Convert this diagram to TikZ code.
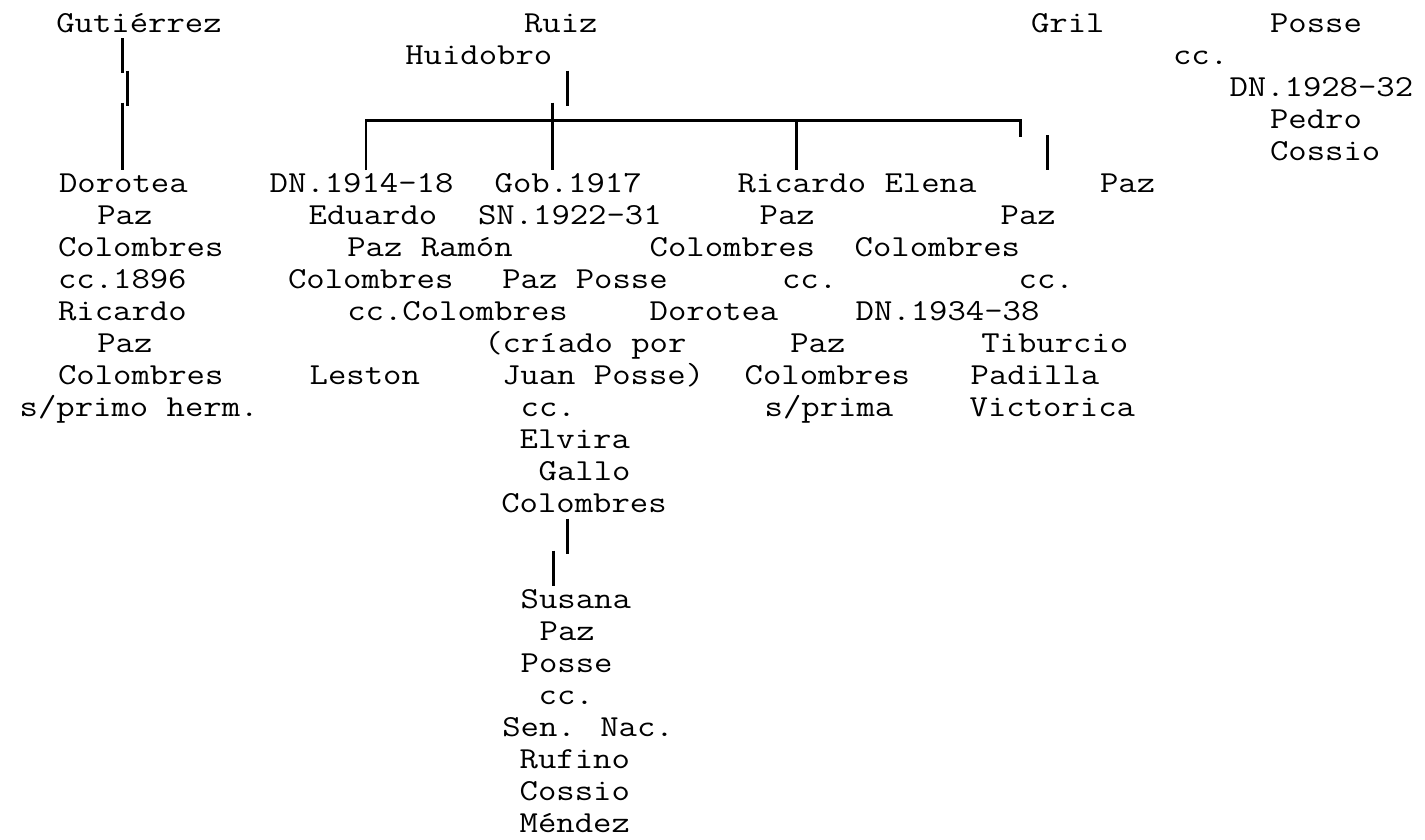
\documentclass[tikz,border=0pt]{standalone}
\usepackage{fontspec}
\usepackage{graphicx}
\newcommand{\tw}[1]{\scalebox{1.17}[1]{#1}}
\tikzset{
  lbl/.style={anchor=base west, inner sep=0pt, outer sep=0pt, font=\ttfamily\fontsize{30.5}{32}\selectfont},
  conn/.style={line width=2.6pt, black}
}
\begin{document}
\begin{tikzpicture}[x=1pt,y=-1pt]
\useasboundingbox (0,0) rectangle (1425,839);
% row 0
\node[lbl] (gut) at (56.3,32.4) {\tw{Gutiérrez}};
\node[lbl] (ruiz) at (524,32.4) {\tw{Ruiz}};
\node[lbl] (gril) at (1031,32.4) {\tw{Gril}};
\node[lbl] (posse) at (1270,32.4) {\tw{Posse}};
% row 1
\node[lbl] (huid) at (405.3,64.4) {\tw{Huidobro}};
\node[lbl] (ccA) at (1173,64.4) {\tw{cc.}};
% rows 2-4
\node[lbl] (dnA) at (1229.5,96.4) {\tw{DN.1928-32}};
\node[lbl] (pedro) at (1270,128.4) {\tw{Pedro}};
\node[lbl] (cossioA) at (1270,160.4) {\tw{Cossio}};
% row 5
\node[lbl] (dor1) at (59,192.4) {\tw{Dorotea}};
\node[lbl] (dn14) at (269.7,192.4) {\tw{DN.1914-18}};
\node[lbl] (gob) at (494.7,192.4) {\tw{Gob.1917}};
\node[lbl] (ric1) at (737.5,192.4) {\tw{Ricardo Elena}};
\node[lbl] (paz5) at (1100,192.4) {\tw{Paz}};
% row 6
\node[lbl] (paz6a) at (97.3,224.4) {\tw{Paz}};
\node[lbl] (edu) at (308.7,224.4) {\tw{Eduardo}};
\node[lbl] (sn) at (478,224.4) {\tw{SN.1922-31}};
\node[lbl] (paz6b) at (759.7,224.4) {\tw{Paz}};
\node[lbl] (paz6c) at (1000.7,224.4) {\tw{Paz}};
% row 7
\node[lbl] (col7a) at (58,256.4) {\tw{Colombres}};
\node[lbl] (pazram) at (347.3,256.4) {\tw{Paz Ramón}};
\node[lbl] (col7b) at (649.7,256.4) {\tw{Colombres}};
\node[lbl] (col7c) at (854.7,256.4) {\tw{Colombres}};
% row 8
\node[lbl] (cc1896) at (58,288.4) {\tw{cc.1896}};
\node[lbl] (col8) at (288,288.4) {\tw{Colombres}};
\node[lbl] (pazpos) at (502.3,288.4) {\tw{Paz Posse}};
\node[lbl] (cc8a) at (782,288.4) {\tw{cc.}};
\node[lbl] (cc8b) at (1018.7,288.4) {\tw{cc.}};
% row 9
\node[lbl] (ric9) at (58,320.4) {\tw{Ricardo}};
\node[lbl] (cccol) at (347.3,320.4) {\tw{cc.Colombres}};
\node[lbl] (dor9) at (649.7,320.4) {\tw{Dorotea}};
\node[lbl] (dn34) at (855.7,320.4) {\tw{DN.1934-38}};
% row 10
\node[lbl] (paz10a) at (97.3,352.4) {\tw{Paz}};
\node[lbl] (criado) at (484.3,352.4) {\tw{(críado por}};
\node[lbl] (paz10b) at (790.3,352.4) {\tw{Paz}};
\node[lbl] (tib) at (981.3,352.4) {\tw{Tiburcio}};
% row 11
\node[lbl] (col11a) at (58,384.4) {\tw{Colombres}};
\node[lbl] (leston) at (309.7,384.4) {\tw{Leston}};
\node[lbl] (juan) at (502,384.4) {\tw{Juan Posse)}};
\node[lbl] (col11b) at (744.7,384.4) {\tw{Colombres}};
\node[lbl] (padilla) at (970.7,384.4) {\tw{Padilla}};
% row 12
\node[lbl] (sprimo) at (19.7,416.4) {\tw{s/primo herm.}};
\node[lbl] (cc12) at (520.7,416.4) {\tw{cc.}};
\node[lbl] (sprima) at (764.7,416.4) {\tw{s/prima}};
\node[lbl] (vict) at (969.7,416.4) {\tw{Victorica}};
% lower column
\node[lbl] (elvira) at (519.7,448.4) {\tw{Elvira}};
\node[lbl] (gallo) at (538.7,480.4) {\tw{Gallo}};
\node[lbl] (col15) at (501.3,512.4) {\tw{Colombres}};
\node[lbl] (susana) at (520.7,608.4) {\tw{Susana}};
\node[lbl] (paz19) at (539.7,640.4) {\tw{Paz}};
\node[lbl] (posse20) at (520.7,672.4) {\tw{Posse}};
\node[lbl] (cc21) at (538.7,704.4) {\tw{cc.}};
\node[lbl] (sen) at (502.3,736.4) {\tw{Sen. Nac.}};
\node[lbl] (rufino) at (519.7,768.4) {\tw{Rufino}};
\node[lbl] (cossioB) at (519.7,800.4) {\tw{Cossio}};
\node[lbl] (mendez) at (519.7,832.4) {\tw{Méndez}};
% connector coordinates
\coordinate (g1a) at (122.3,38.3);  \coordinate (g1b) at (122.3,73.3);
\coordinate (g2a) at (127.3,70.7);  \coordinate (g2b) at (127.3,106);
\coordinate (g3a) at (122.3,102.7); \coordinate (g3b) at (122.3,170);
\coordinate (h1a) at (567.3,70.7);  \coordinate (h1b) at (567.3,106);
\coordinate (barL) at (366,120.7);  \coordinate (barR) at (1020.7,120.7);
\coordinate (dL) at (366,170);
\coordinate (xT) at (552.7,102.7);  \coordinate (xB) at (552.7,170);
\coordinate (tM) at (796.7,120.7);  \coordinate (dM) at (796.7,170);
\coordinate (dR) at (1020.7,137);
\coordinate (pA) at (1047.3,135);   \coordinate (pB) at (1047.3,170);
\coordinate (l1a) at (567.7,518.5); \coordinate (l1b) at (567.7,553.5);
\coordinate (l2a) at (553.3,550.5); \coordinate (l2b) at (553.3,585.5);
% connectors
\draw[conn] (g1a) -- (g1b);
\draw[conn] (g2a) -- (g2b);
\draw[conn] (g3a) -- (g3b);
\draw[conn] (h1a) -- (h1b);
\draw[conn] (dL) -- (barL) -- (barR) -- (dR);
\draw[conn] (xT) -- (xB);
\draw[conn] (tM) -- (dM);
\draw[conn] (pA) -- (pB);
\draw[conn] (l1a) -- (l1b);
\draw[conn] (l2a) -- (l2b);
\end{tikzpicture}
\end{document}
